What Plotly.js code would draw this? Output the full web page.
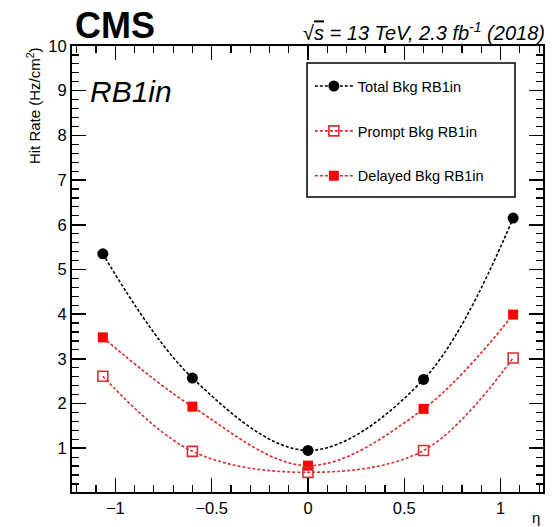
<!DOCTYPE html>
<html>
<head>
<meta charset="utf-8">
<script src="https://cdn.plot.ly/plotly-3.0.1.min.js"></script>
<style>html,body{margin:0;padding:0;background:#fff;}#chart{width:553px;height:527px;}</style>
</head>
<body>
<div id="chart"></div>
<script>
// ---- data ----
const eta = [-1.065, -0.6, 0.0, 0.6, 1.065];
const totalBkg = [5.35, 2.57, 0.95, 2.54, 6.15];
const promptBkg = [2.61, 0.93, 0.46, 0.95, 3.02];
const delayedBkg = [3.48, 1.93, 0.61, 1.88, 3.99];
const seriesNames = ["Total Bkg RB1in", "Prompt Bkg RB1in", "Delayed Bkg RB1in"];
const xTickVals = [-1, -0.5, 0, 0.5, 1];
const yTickVals = [1, 2, 3, 4, 5, 6, 7, 8, 9, 10];

const FONT = "Liberation Sans, Arial, Helvetica, sans-serif";
const dash = "3px,2px";

const traces = [
  {
    x: eta, y: delayedBkg, name: seriesNames[2], legendgroup: "d", legendrank: 3,
    mode: "lines+markers", type: "scatter",
    line: {shape: "spline", smoothing: 1, color: "#e02424", width: 1.6, dash: dash},
    marker: {symbol: "square", size: 10, color: "#ff0000", line: {width: 0}}
  },
  {
    x: eta, y: promptBkg, name: seriesNames[1], legendgroup: "p", legendrank: 2,
    mode: "lines+markers", type: "scatter",
    line: {shape: "spline", smoothing: 1, color: "#d43232", width: 1.6, dash: dash},
    marker: {symbol: "square-open", size: 10, color: "#d43232", line: {width: 1.6, color: "#d43232"}}
  },
  {
    x: eta, y: totalBkg, name: seriesNames[0], legendgroup: "t", legendrank: 1,
    mode: "lines+markers", type: "scatter",
    line: {shape: "spline", smoothing: 1, color: "#000000", width: 1.6, dash: dash},
    marker: {symbol: "circle", size: 11, color: "#000000"}
  }
];

const layout = {
  width: 553, height: 527,
  margin: {l: 72, r: 10, t: 46, b: 35, pad: 0},
  paper_bgcolor: "#fff", plot_bgcolor: "#fff",
  font: {family: FONT, size: 16, color: "#000"},
  showlegend: true,
  legend: {
    x: 0.505, y: 0.946, xanchor: "left", yanchor: "top",
    bgcolor: "rgba(0,0,0,0)", borderwidth: 0,
    font: {family: FONT, size: 14.5, color: "#000"},
    traceorder: "grouped", tracegroupgap: 23, itemwidth: 38
  },
  xaxis: {
    range: [-1.225, 1.22], tickmode: "array", tickvals: xTickVals,
    ticks: "inside", ticklen: 14, tickwidth: 1.5, tickcolor: "#000",
    showline: true, linewidth: 2, linecolor: "#000", mirror: "ticks",
    showgrid: false, zeroline: false,
    tickfont: {family: FONT, size: 16.5},
    minor: {tickmode: "linear", tick0: 0, dtick: 0.1, ticks: "inside", ticklen: 7, tickwidth: 1.2, tickcolor: "#000", showgrid: false}
  },
  yaxis: {
    range: [0.02, 10], tickmode: "array", tickvals: yTickVals,
    ticks: "inside", ticklen: 14, tickwidth: 1.5, tickcolor: "#000",
    showline: true, linewidth: 2, linecolor: "#000", mirror: "ticks",
    showgrid: false, zeroline: false,
    tickfont: {family: FONT, size: 16.5},
    minor: {tickmode: "linear", tick0: 0, dtick: 0.2, ticks: "inside", ticklen: 7, tickwidth: 1.2, tickcolor: "#000", showgrid: false}
  },
  shapes: [
    {type: "rect", xref: "paper", yref: "paper", x0: 0.499, x1: 0.9406, y0: 0.6614, y1: 0.962,
     line: {color: "#000", width: 1.5}, fillcolor: "rgba(0,0,0,0)", layer: "above"}
  ],
  annotations: [
    {text: "<b>CMS</b>", xref: "paper", yref: "paper", x: 0.003, y: 1.045, xanchor: "left", yanchor: "middle",
     showarrow: false, font: {family: FONT, size: 36, color: "#000"}},
    {text: "<i>√<span style='text-decoration:overline'>s</span> = 13 TeV, 2.3 fb<sup>-1</sup> (2018)</i>",
     xref: "paper", yref: "paper", x: 1.0095, y: 1.032, xanchor: "right", yanchor: "middle",
     showarrow: false, font: {family: FONT, size: 20, color: "#000"}},
    {text: "<i>RB1in</i>", xref: "paper", yref: "paper", x: 0.033, y: 0.897, xanchor: "left", yanchor: "middle",
     showarrow: false, font: {family: FONT, size: 30, color: "#000"}},
    {text: "Hit Rate (Hz/cm<sup>2</sup>)", xref: "paper", yref: "paper", x: -0.083, y: 1.003, xanchor: "center", yanchor: "top",
     textangle: -90, showarrow: false, font: {family: FONT, size: 15, color: "#000"}},
    {text: "η", xref: "paper", yref: "paper", x: 0.998, y: -0.058, xanchor: "right", yanchor: "middle",
     showarrow: false, font: {family: FONT, size: 15, color: "#000"}}
  ]
};

Plotly.newPlot("chart", traces, layout, {displayModeBar: false, staticPlot: true});
</script>
</body>
</html>
